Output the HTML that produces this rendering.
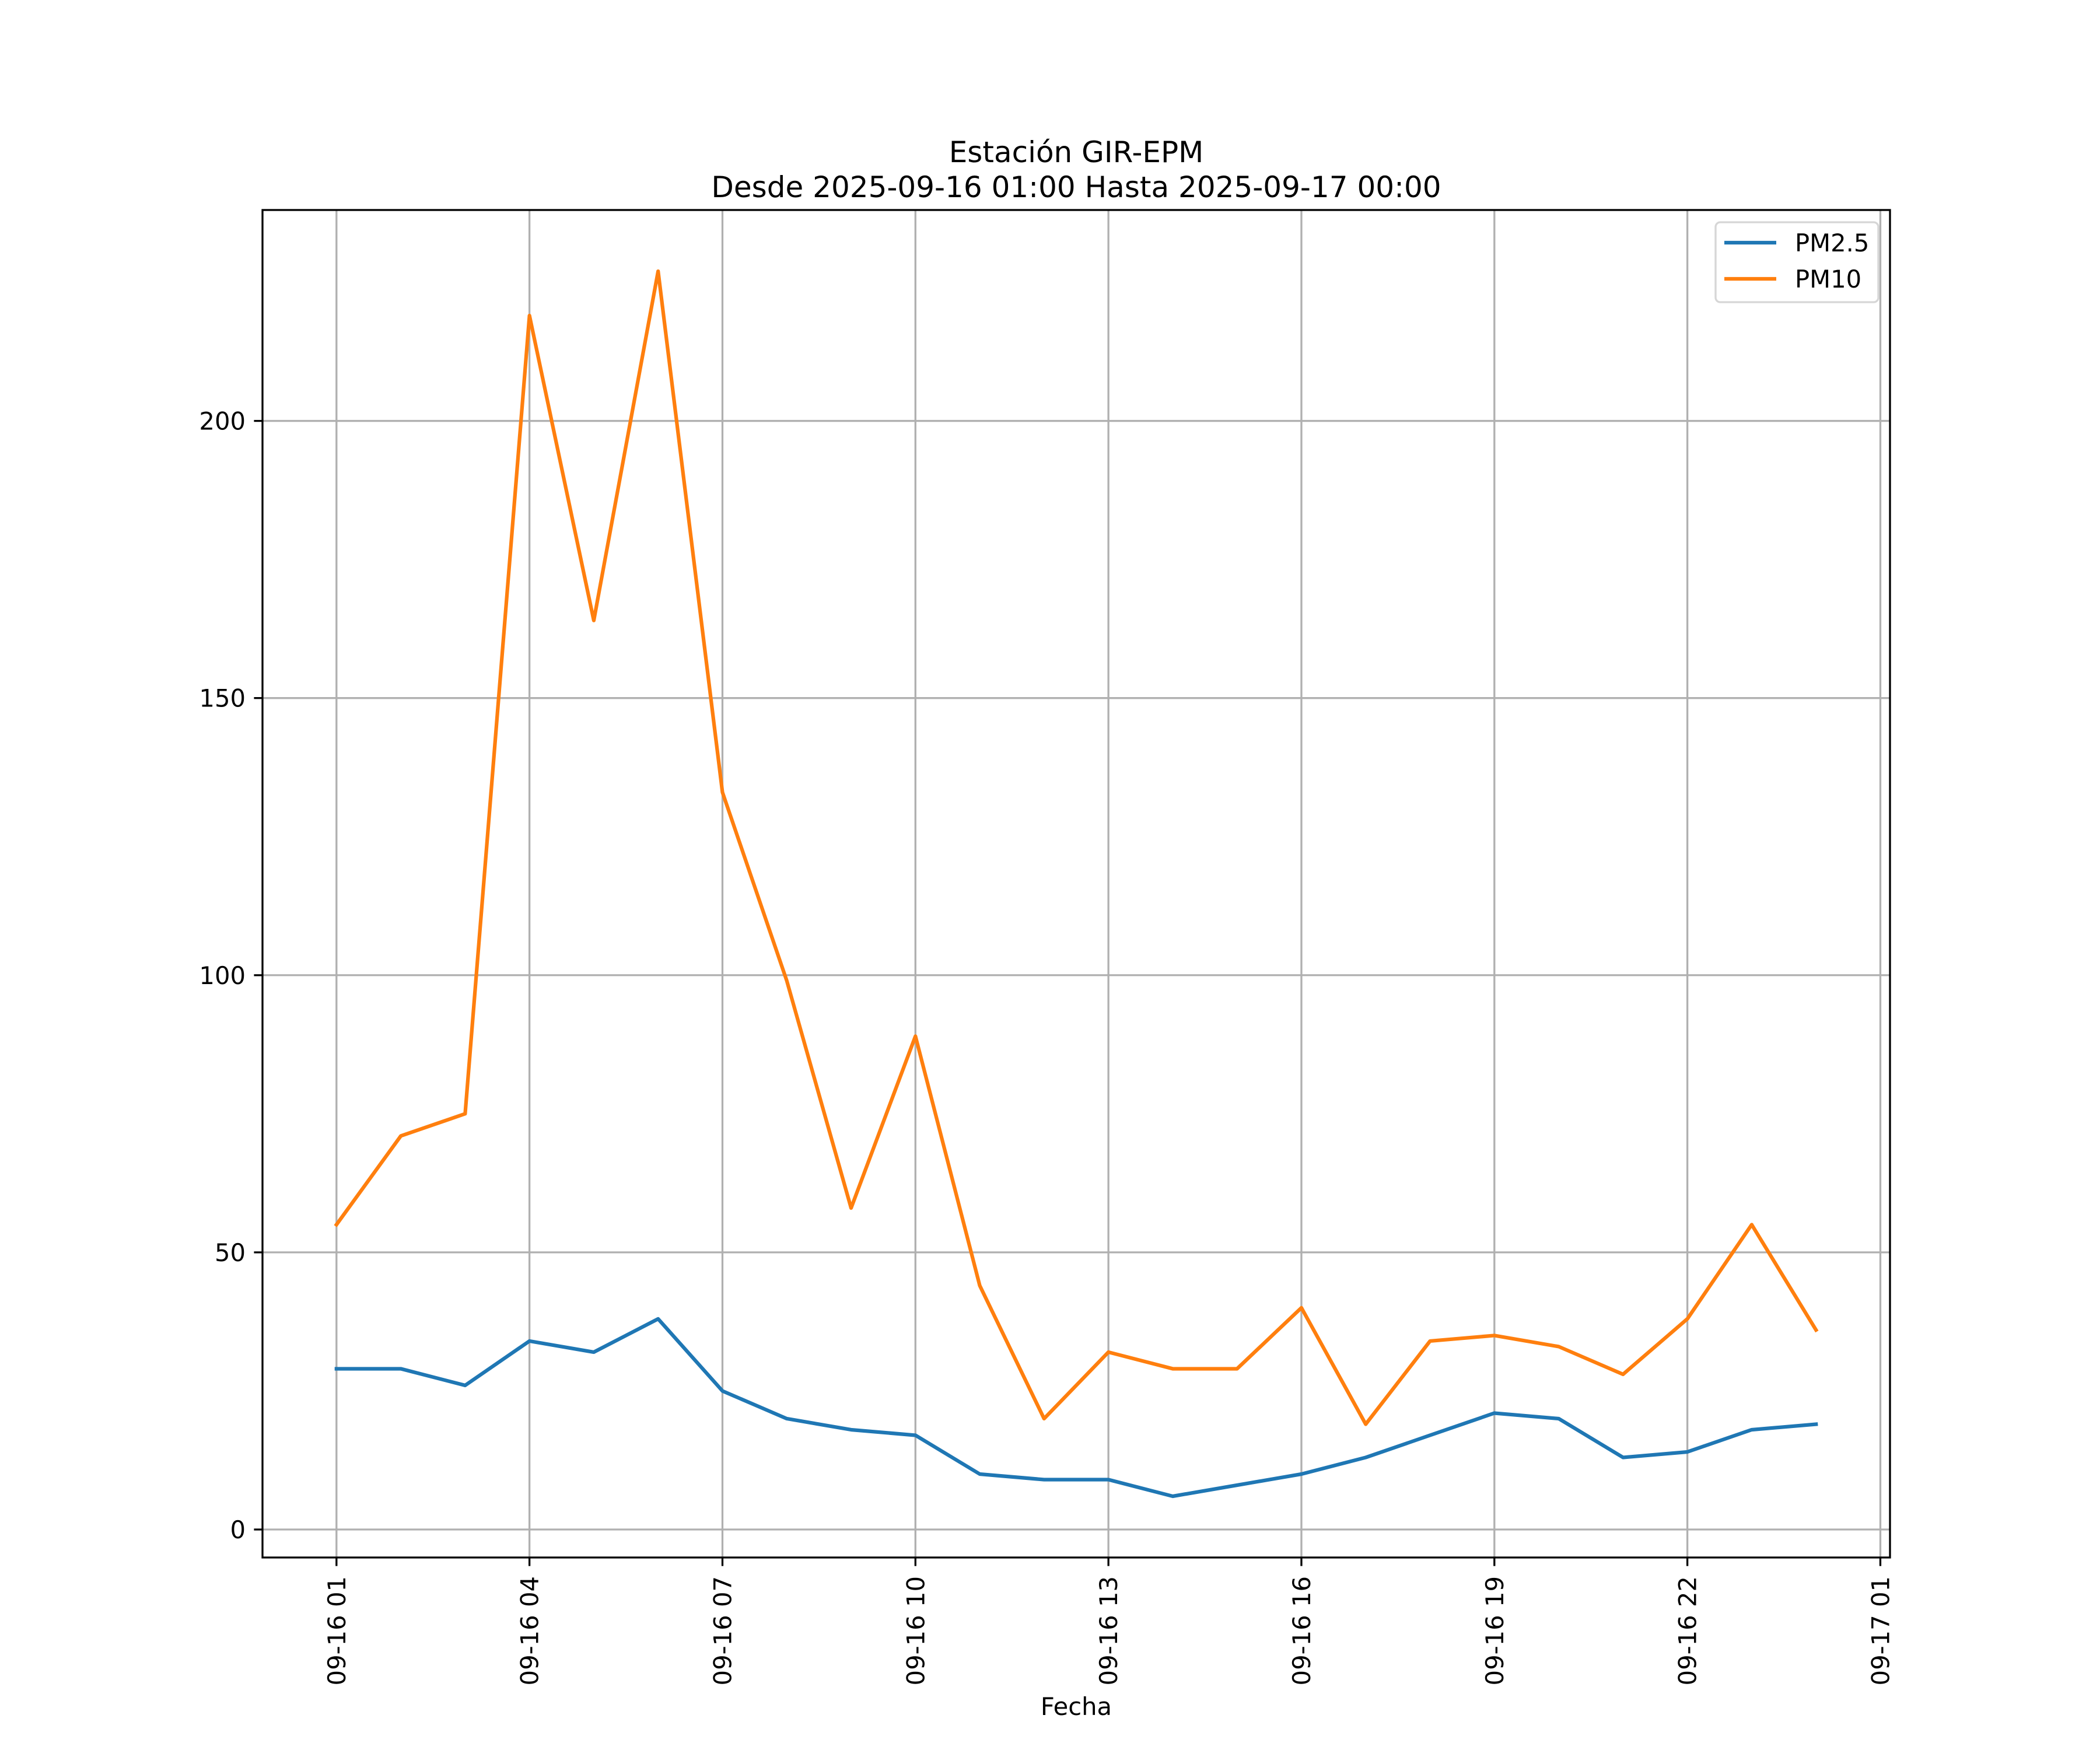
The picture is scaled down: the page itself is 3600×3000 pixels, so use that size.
<!DOCTYPE html>
<html><head><meta charset="utf-8"><style>html,body{margin:0;padding:0;background:#fff}svg{display:block}text{font-family:"DejaVu Sans","Liberation Sans",sans-serif;fill:#000}</style></head>
<body>
<svg id="chart" width="3600" height="3000" viewBox="0 0 3600 3000" xmlns="http://www.w3.org/2000/svg">
<rect width="3600" height="3000" fill="#fff"/>
<g id="grid"></g><g id="series"></g><g id="axes"></g>
<text x="1845" y="278" font-size="50" text-anchor="middle">Estación GIR-EPM</text>
<text x="1845" y="338" font-size="50" text-anchor="middle">Desde 2025-09-16 01:00 Hasta 2025-09-17 00:00</text>
<text x="1845" y="2940" font-size="41.7" text-anchor="middle">Fecha</text>
<g>
<rect x="2941" y="381" width="279" height="137" rx="8" fill="#fff" fill-opacity="0.8" stroke="#d6d6d6" stroke-width="3.3"/>
<line x1="2956" y1="416" x2="3045" y2="416" stroke="#1f77b4" stroke-width="6.25"/>
<text x="3077" y="431" font-size="41.7">PM2.5</text>
<line x1="2956" y1="478" x2="3045" y2="478" stroke="#ff7f0e" stroke-width="6.25"/>
<text x="3077" y="493" font-size="41.7">PM10</text>
</g>
</svg>
<script>
const hours = [1,2,3,4,5,6,7,8,9,10,11,12,13,14,15,16,17,18,19,20,21,22,23,24];
const pm25 = [29,29,26,34,32,38,25,20,18,17,10,9,9,6,8,10,13,17,21,20,13,14,18,19];
const pm10 = [55,71,75,219,164,227,133,99,58,89,44,20,32,29,29,40,19,34,35,33,28,38,55,36];
const xTickHours = [1,4,7,10,13,16,19,22,25];
const xTickLabels = ["09-16 01","09-16 04","09-16 07","09-16 10","09-16 13","09-16 16","09-16 19","09-16 22","09-17 01"];
const yTicks = [0,50,100,150,200];

const L=450,R=3240,T=360,B=2670;
const all=pm25.concat(pm10);
const ymin=Math.min(...all), ymax=Math.max(...all), ym=(ymax-ymin)*0.05;
const y0=ymin-ym, y1=ymax+ym;
const x0=hours[0]-(hours[hours.length-1]-hours[0])*0.05, x1=hours[hours.length-1]+(hours[hours.length-1]-hours[0])*0.05;
const sx=h=>L+(h-x0)/(x1-x0)*(R-L);
const sy=v=>B-(v-y0)/(y1-y0)*(B-T);
const NS="http://www.w3.org/2000/svg";
function mk(tag,attrs,parent){const e=document.createElementNS(NS,tag);for(const k in attrs)e.setAttribute(k,attrs[k]);parent.appendChild(e);return e;}
const grid=document.getElementById('grid'),ser=document.getElementById('series'),ax=document.getElementById('axes');
xTickHours.forEach((h,i)=>{
  const x=sx(h);
  const g=mk('line',{x1:x,y1:T,x2:x,y2:B,stroke:'#b0b0b0','stroke-width':3.3},grid);
  
  
  const t=mk('line',{x1:x,y1:B,x2:x,y2:B+14.6,stroke:'#000','stroke-width':3.3},ax);
  
  
  const tx=mk('text',{x:0,y:0,'font-size':41.7,'text-anchor':'end',transform:`translate(${x+15},${B+32}) rotate(-90)`},ax);
  tx.textContent=xTickLabels[i];
  
  
});
yTicks.forEach(v=>{
  const y=sy(v);
  const g=mk('line',{x1:L,y1:y,x2:R,y2:y,stroke:'#b0b0b0','stroke-width':3.3},grid);
  
  
  const t=mk('line',{x1:L-14.6,y1:y,x2:L,y2:y,stroke:'#000','stroke-width':3.3},ax);
  
  
  const tx=mk('text',{x:L-29,y:y+15,'font-size':41.7,'text-anchor':'end'},ax);
  tx.textContent=v;
  
  
});
function line(data,color,name){
  const p=mk('polyline',{points:data.map((v,i)=>sx(hours[i])+','+sy(v)).join(' '),fill:'none',stroke:color,'stroke-width':6.25,'stroke-linejoin':'round','stroke-linecap':'square'},ser);
  
  
}
line(pm25,'#1f77b4','pm25-line');
line(pm10,'#ff7f0e','pm10-line');
const f=mk('rect',{x:L,y:T,width:R-L,height:B-T,fill:'none',stroke:'#000','stroke-width':3.3},ax);


</script>
</body></html>
